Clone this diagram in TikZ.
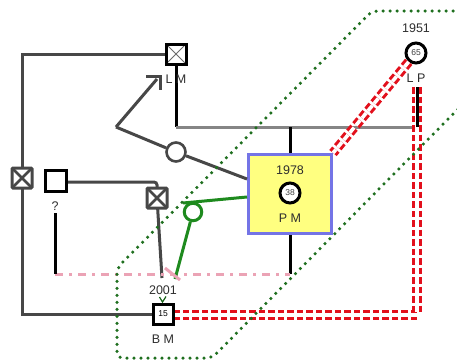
\documentclass[tikz,border=0pt]{standalone}
\usepackage{fontspec}
\setmainfont{Liberation Sans}
\usetikzlibrary{arrows.meta}
\definecolor{famgray}{HTML}{474747}
\definecolor{lgray}{HTML}{858585}
\definecolor{grn}{HTML}{1E8A1E}
\definecolor{gdotc}{HTML}{1F6F1F}
\definecolor{redc}{HTML}{E2101C}
\definecolor{pinkc}{HTML}{EBA3B5}
\definecolor{pmfill}{HTML}{FFFF80}
\definecolor{pmborder}{HTML}{7474E6}
\begin{document}
\begin{tikzpicture}[x=1pt,y=-1pt,
  fam/.style={draw=famgray, line width=3pt},
  blk/.style={draw=black, line width=3pt},
  lg/.style={draw=lgray, line width=3pt},
  grline/.style={draw=grn, line width=3pt},
  pinkline/.style={draw=pinkc, line width=3pt, dash pattern=on 8pt off 6pt on 3pt off 6pt},
  redtwo/.style={draw=redc, line width=3pt, double=white, double distance=3.6pt, dash pattern=on 6.5pt off 3pt},
  gdot/.style={draw=gdotc, line width=3.5pt, line cap=round, dash pattern=on 0pt off 7pt},
  txt/.style={inner sep=0pt, text=black!82, font=\fontsize{12.5}{14}\selectfont},
  sq/.style={draw=black, line width=3pt, fill=white, minimum size=20pt, inner sep=0pt, font=\fontsize{8.5}{10}\selectfont},
  xsq/.style={sq, path picture={\draw[famgray!80, line width=0.8pt] (path picture bounding box.north west) -- (path picture bounding box.south east) (path picture bounding box.north east) -- (path picture bounding box.south west);}},
  gsq/.style={draw=famgray, line width=3pt, fill=white, minimum size=20pt, inner sep=0pt, rounded corners=1pt,
    path picture={\draw[famgray, line width=2.8pt] (path picture bounding box.north west) -- (path picture bounding box.south east) (path picture bounding box.north east) -- (path picture bounding box.south west);}},
  circ/.style={circle, draw=black, line width=3pt, fill=white, minimum size=20pt, inner sep=0pt, text=black!75, font=\fontsize{8.5}{10}\selectfont},
  gcirc/.style={circle, draw=famgray, line width=2.6pt, fill=white, minimum size=19pt, inner sep=0pt},
  kcirc/.style={circle, draw=grn, line width=3pt, fill=white, minimum size=17.5pt, inner sep=0pt},
  pmbox/.style={draw=pmborder, line width=3pt, fill=pmfill, minimum width=83pt, minimum height=79pt, inner sep=0pt}
]
\useasboundingbox (0,0) rectangle (457,362);

% coordinates for free ends and bends
\coordinate (m1) at (176,127);
\coordinate (m2) at (417,127);
\coordinate (m3) at (290,127);
\coordinate (lp1) at (417,87);
\coordinate (r1) at (417,315);
\coordinate (p1) at (55,274);
\coordinate (p2) at (290,274);
\coordinate (q1) at (55,213);
\coordinate (c1) at (162,278);
\coordinate (a0) at (116,127);
\coordinate (a1) at (157,79);
\coordinate (ch0) at (160,76);
\coordinate (ch1) at (146,76);
\coordinate (ch2) at (160,90);
\coordinate (pmg) at (247,179);
\coordinate (k0) at (183,203);
\coordinate (k1) at (247,197);
\coordinate (k2) at (175,279);
\coordinate (s0) at (165,268);
\coordinate (s1) at (180,280);

% family lines (drawn under nodes)
\draw[fam] (176,54) -| (22,178);
\draw[fam] (22,178) |- (163,314);
\draw[fam, rounded corners=3pt] (56,182) -| (157,198);
\draw[fam] (157,198) -- (c1);
\draw[blk] (176,54) -- (m1);
\draw[lg] (m1) -- (m2);
\draw[blk] (m3) -- (290,194);
\draw[blk] (290,194) -- (p2);
\draw[pinkline] (p1) -- (p2);
\draw[blk] (q1) -- (p1);

% nodes
\node[xsq] (LM) at (176,54) {};
\node[txt] (LMl) at (176,79) {L M};
\node[gsq] (L) at (22,178) {};
\node[sq, minimum size=21pt] (Q) at (56,181) {};
\node[txt] (Ql) at (55,206) {?};
\node[gsq] (C) at (157,198) {};
\node[sq] (BM) at (163,314) {15};
\node[txt] (BMy) at (163,290) {2001};
\node[txt] (BMl) at (163,339) {B M};
\node[pmbox] (PM) at (290,194) {};
\node[circ] (PMc) at (290,193) {38};
\node[txt] (PMy) at (290,170) {1978};
\node[txt] (PMl) at (290,218) {P M};
\node[circ] (LP) at (416,53) {65};
\node[txt] (LPy) at (416,28) {1951};
\node[txt] (LPl) at (416,78) {L P};

% gray partnership with arrow
\draw[fam] (a0) -- (a1);
\draw[fam, miter limit=10] (ch1) -- (ch0) -- (ch2);
\node[gcirc] (G) at (176,152) {};
\draw[fam] (a0) -- (G) -- (pmg);

% green relation
\node[kcirc] (K) at (193,212) {};
\draw[grline] (k0) -- (k1);
\draw[grline] (K) -- (k2);
\draw[draw=pinkc, line width=3pt] (s0) -- (s1);
\draw[draw=grn!70!black, line width=1.2pt] (159.5,297) -- (162.5,302) -- (166,296.5);

% red double dashed links
\draw[redtwo] (LP) -- (PM.north east);
\draw[redtwo] (lp1) -- (r1) -- (BM.east |- r1);
\draw[blk] (lp1) -- (m2);

% green dotted outline
\draw[gdot, rounded corners=6pt] (460,11) -- (372,11) -- (117,268) -- (117,358) -- (212,358) -- (460,107);
\end{tikzpicture}
\end{document}
